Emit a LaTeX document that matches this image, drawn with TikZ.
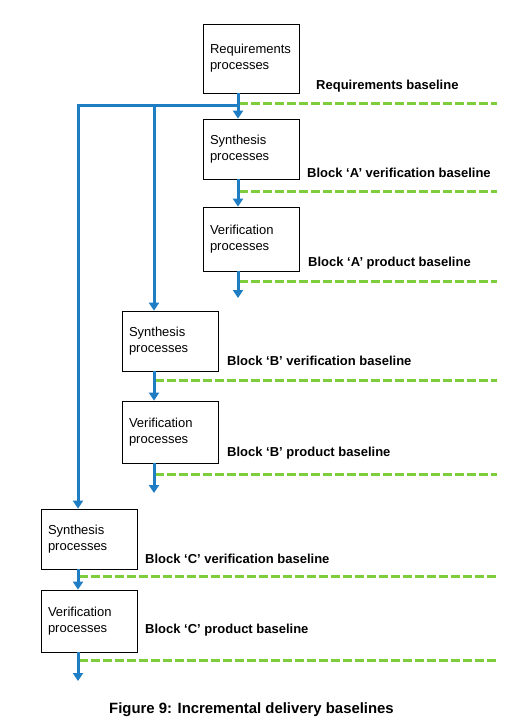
\documentclass[tikz,border=0pt]{standalone}
\usepackage{fontspec}
\setmainfont{Liberation Sans}
\usetikzlibrary{arrows.meta,positioning}
\definecolor{flowblue}{RGB}{30,125,195}
\definecolor{basegreen}{RGB}{125,205,60}
\tikzset{
  procbox/.style={draw, line width=0.8pt, minimum width=96pt, text width=82pt, inner xsep=7pt, align=left, font=\fontsize{13}{16}\selectfont},
  blbl/.style={anchor=west, inner sep=0pt, font=\bfseries\fontsize{13}{15}\selectfont},
  baseln/.style={basegreen, line width=3pt, dash pattern=on 9pt off 3pt},
  flow/.style={flowblue, line width=3pt, -{Triangle[width=10pt,length=8pt]}},
  every picture/.style={line cap=butt, line join=miter}
}

\begin{document}
\begin{tikzpicture}[x=1pt,y=-1pt]
  \fill[white] (0,0) rectangle (513,723);
  \useasboundingbox (0,0) rectangle (513,723);

  % baselines
  \draw[baseln] (239,103) -- (497,103);
  \draw[baseln] (239,191) -- (497,191);
  \draw[baseln] (239,281) -- (497,281);
  \draw[baseln] (155,380) -- (497,380);
  \draw[baseln] (155,474) -- (497,474);
  \draw[baseln] (79,576) -- (497,576);
  \draw[baseln] (79,660) -- (497,660);

  % process boxes
  \node[procbox, minimum height=69pt] (req) at (251,58.5) {Requirements\\processes\\[5pt]};
  \node[procbox, minimum height=60pt] (synA) at (251,149) {Synthesis\\processes};
  \node[procbox, minimum height=64pt] (verA) at (251,239) {Verification\\processes};
  \node[procbox, minimum height=60pt] (synB) at (170,341) {Synthesis\\processes};
  \node[procbox, minimum height=62pt] (verB) at (170,432) {Verification\\processes};
  \node[procbox, minimum height=60pt] (synC) at (89,539) {Synthesis\\processes};
  \node[procbox, minimum height=62pt] (verC) at (89,621) {Verification\\processes};

  % baseline labels
  \node[blbl] (lreq) at (316,86) {Requirements baseline};
  \node[blbl] (lvA) at (307,173) {Block ‘A’ verification baseline};
  \node[blbl] (lpA) at (308,263) {Block ‘A’ product baseline};
  \node[blbl] (lvB) at (227,361) {Block ‘B’ verification baseline};
  \node[blbl] (lpB) at (227,453) {Block ‘B’ product baseline};
  \node[blbl] (lvC) at (145,559) {Block ‘C’ verification baseline};
  \node[blbl] (lpC) at (145,630) {Block ‘C’ product baseline};

  % flow
  \coordinate (split) at (239.5,105);
  \coordinate (splitB) at (154,105);
  \coordinate (outA) at (238,298);
  \coordinate (outB) at (154,493);
  \coordinate (outC) at (78,681);
  \draw[flow] ([xshift=-13pt]req.south) -- ([xshift=-13pt]synA.north);
  \draw[flow] (split) -| ([xshift=-11pt]synC.north);
  \draw[flow] (splitB) -- ([xshift=-16pt]synB.north);
  \draw[flow] ([xshift=-13pt]synA.south) -- ([xshift=-13pt]verA.north);
  \draw[flow] ([xshift=-13pt]verA.south) -- (outA);
  \draw[flow] ([xshift=-16pt]synB.south) -- ([xshift=-16pt]verB.north);
  \draw[flow] ([xshift=-16pt]verB.south) -- (outB);
  \draw[flow] ([xshift=-11pt]synC.south) -- ([xshift=-11pt]verC.north);
  \draw[flow] ([xshift=-11pt]verC.south) -- (outC);

  % caption
  \node[font=\bfseries\fontsize{14.9}{17}\selectfont] (cap) at (251.5,710) {Figure 9: Incremental delivery baselines};
\end{tikzpicture}
\end{document}
